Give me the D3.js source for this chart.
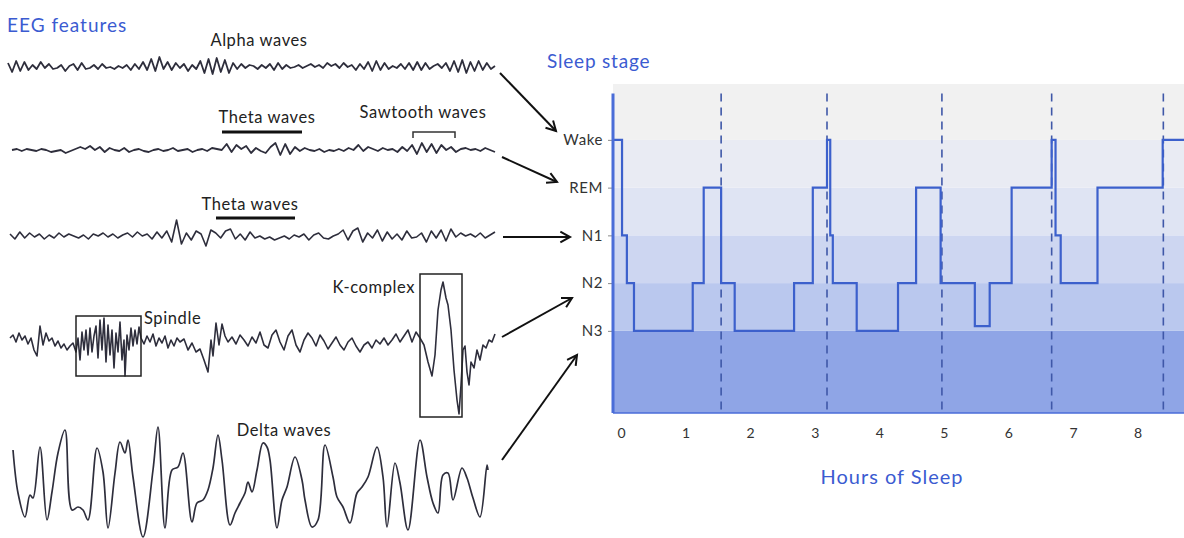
<!DOCTYPE html>
<html><head><meta charset="utf-8">
<script src="https://cdn.jsdelivr.net/npm/d3@7"></script>
<style>
html,body{margin:0;padding:0;background:#fff;}
svg{display:block;font-family:Lato,"Open Sans",sans-serif;}
</style></head><body>
<svg id="chart" width="1184" height="538"></svg>
<script>
// ---------- Hypnogram data ----------
const stageNames = ["N3", "N2", "N1", "REM", "Wake"];   // level 0..4
const stageLevels = [0, 1, 2, 3, 4];
const hypTimes  = [-0.125, 0.015, 0.09, 0.20, 1.11, 1.28, 1.55, 1.76, 2.68, 2.97, 3.19, 3.24, 3.28, 3.65, 4.29, 4.57, 4.95, 5.48, 5.71, 6.05, 6.67, 6.73, 6.81, 7.38, 8.39, 8.72];
const hypStages = [4, 2, 1, 0, 1, 3, 1, 0, 1, 3, 4, 2, 1, 0, 1, 3, 1, 0.1, 1, 3, 4, 2, 1, 3, 4, 4];
const cycleBounds = [1.55, 3.19, 4.97, 6.67, 8.40];
const hourTicks = [0, 1, 2, 3, 4, 5, 6, 7, 8];
const bandEdges = [-1.72, 0, 1, 2, 3, 4, 5.17];

// ---------- EEG traces (amplitude readings) ----------
const alphaWave = [4,-5,6,-4,5,-3,2,-2,5,-1,3,-2,-1,2,-4,1,3,-3,4,-2,
  -1,2,-2,3,-1,0,-2,1,-1,2,-3,3,-2,5,-3,8,-4,10,-2,5,
  -3,4,-1,3,-4,2,-2,6,-6,8,-7,9,-5,7,-6,4,-2,3,-1,2,
  1,-2,2,-1,3,-3,4,-2,2,-1,0,2,-1,1,3,0,2,-1,4,1,
  3,-1,4,0,2,-3,3,-2,5,-4,6,-3,4,-2,1,-1,3,-2,4,-3,
  5,-3,4,-2,1,3,-1,4,-4,6,-5,7,-6,5,-4,6,-3,4,-2,1];
const thetaWave = [0,1,-1,1,0,-1,1,0,-2,-1,0,-3,-1,1,
  3,1,4,0,3,-2,2,0,-1,2,-2,0,1,-1,-2,0,1,
  -1,0,2,-1,0,1,-2,0,1,-1,2,1,0,6,
  -2,5,1,4,-3,2,-1,-3,3,7,-5,6,-4,3,-1,2,
  0,-1,1,-2,0,-1,1,-1,2,0,5,-1,3,1,-1,2,0,1,-2,
  3,-1,5,-4,7,-2,6,-3,5,0,3,-2,1,
  2,0,1,-1,2,0,-2];
const thetaWave2 = [2,-3,4,-2,3,-1,2,-3,1,-2,3,
  -1,2,0,-2,1,-3,2,0,3,-1,2,-2,1,3,-1,4,0,2,
  -3,4,-2,5,-6,16,-8,3,-4,5,2,-10,6,3,
  -2,5,7,-3,2,-4,4,-2,0,-3,-1,-4,-2,0,-3,1,-1,2,-4,1,3,-2,-3,0,2,6,
  -4,5,8,-6,3,-2,6,-5,4,-3,2,-4,5,-2,-1,3,-6,5,-2,6,-5,7,
  -1,3,0,2,-1,3,-2,1,4];
const spindleTrace = [[10,2],[13,5],[16,-2],[19,7],[22,0],[25,4],[28,-4],[31,2],[34,-10],[37,-16],[40,14],[43,-5],[46,7],[49,-1],[52,2],[55,-6],[58,-1],[61,-8],[64,-4],[67,-10],[70,-6],[73,-3],[76,-12],
  [78,2],[80,-20],[82,8],[84,-10],[86,10],[88,-15],[90,12],[92,-12],[94,4],[96,14],[98,-18],[100,20],[102,-10],[104,22],[106,-22],[108,15],[110,-15],[112,10],[114,-28],[116,7],[118,-12],[120,18],[122,-20],[124,0],[125,-36],[127,5],[129,-10],[131,12],[133,-6],[135,10],[137,-4],[139,13],[141,2],
  [144,-4],[147,4],[150,-2],[153,6],[156,-6],[159,2],[162,-3],[165,4],[168,-8],[171,0],[174,-6],[177,2],[180,-2],[184,1],[188,-10],[192,-3],[196,-12],[200,-9],[204,-20],[208,-32],[211,0],[213,-16],[216,17],[219,-5],[222,16],[225,4],[228,-2],
  [232,3],[236,-4],[240,5],[244,0],[248,-6],[252,3],[256,-3],[260,8],[264,-5],[268,-8],[272,5],[276,10],[280,-2],[284,-10],[288,4],[292,10],[296,-5],[300,-12],[304,0],[308,7],[312,2],[316,-6],[320,5],[324,-1],[328,-9],[332,-3],[336,3],[340,-5],[344,-10],[348,-2],[352,2],[356,-6],[360,-12],[364,-5],[368,-2],[372,-8],[376,0],[380,-4],[384,2],[388,-5],[392,0],[396,6],[400,-2],[404,4],[408,10],[412,-2],[416,8],[420,2],
  [424,-5],[428,-22],[432,-36],[435,-15],[438,30],[441,50],[443,58],[446,42],[448,35],[451,10],[454,-30],[457,-60],[459,-74],[461,-45],[463,-10],[465,-6],[467,-32],[469,-45],[471,-22],[474,-28],[477,-10],[480,-20],[483,-5],[486,-8],[489,0],[492,-2],[495,6]];
const deltaTrace = [[13,30],[18,-13],[25,-37],[30,-15],[33,-18],[40,33],[47,-40],[52,-12],[58,27],[65,50],[72,-30],[78,-27],[83,-30],[88,-40],[97,32],[103,8],[108,-48],[115,7],[120,38],[125,27],[128,40],[133,3],[143,-57],[153,10],[158,53],[165,-48],[172,10],[178,13],[183,27],[192,-42],[197,-23],[203,-20],[208,-10],[213,12],[218,45],[222,20],[230,-45],[235,-33],[240,-23],[245,-13],[248,-2],[252,-12],[257,10],[263,37],[267,33],[270,20],[277,-48],[282,-20],[287,-7],[295,23],[302,0],[305,-20],[312,-47],[318,-40],[325,35],[333,3],[337,-17],[343,-27],[350,-43],[357,-13],[362,-7],[368,3],[377,33],[383,3],[387,-47],[395,17],[400,-3],[408,-50],[420,40],[427,3],[433,-23],[438,-33],[443,5],[448,7],[453,-20],[462,12],[467,2],[473,-18],[480,-37],[487,15],[488,10]];

// ---------- styles ----------
const bandColors = ["#8fa5e6", "#bac8ee", "#cdd6f1", "#dfe4f3", "#e9ebf3", "#f1f1f1"];
const BLUE = "#3b5bd1";
const TRACE = "#2e2e3c";

const svg = d3.select("#chart");

// ---------- Hypnogram ----------
const x = d3.scaleLinear().domain([-0.125, 8.72]).range([613, 1184]);
const y = d3.scaleLinear().domain([-1.72, 5.17]).range([413, 84]);

svg.append("g").selectAll("rect").data(d3.pairs(bandEdges)).join("rect")
  .attr("x", x(-0.125)).attr("width", x(8.72) - x(-0.125))
  .attr("y", d => y(d[1])).attr("height", d => y(d[0]) - y(d[1]))
  .attr("fill", (d, i) => bandColors[i]);

svg.append("g").selectAll("line").data(cycleBounds).join("line")
  .attr("x1", d => x(d)).attr("x2", d => x(d))
  .attr("y1", y(4.97)).attr("y2", y(-1.72))
  .attr("stroke", "#3f58a8").attr("stroke-width", 1.6)
  .attr("stroke-dasharray", "8,6");

const hypLine = d3.line().x(d => x(d[0])).y(d => y(d[1])).curve(d3.curveStepAfter);
svg.append("path").datum(hypTimes.map((t, i) => [t, hypStages[i]]))
  .attr("d", hypLine).attr("fill", "none")
  .attr("stroke", "#3c60cc").attr("stroke-width", 2.2);

const yAxis = svg.append("g").attr("transform", `translate(${x(-0.125)},0)`)
  .call(d3.axisLeft(y).tickValues(stageLevels).tickFormat(i => stageNames[i]).tickSize(5).tickPadding(5));
yAxis.select(".domain").remove();
yAxis.selectAll("line").attr("stroke", "#8a8a8a");
yAxis.selectAll("text").attr("fill", "#333").style("font-size", "15px").style("letter-spacing", "0.6px").style("font-family", "Lato");

svg.append("line").attr("x1", x(-0.125)).attr("x2", x(-0.125))
  .attr("y1", y(4.97)).attr("y2", y(-1.72))
  .attr("stroke", "#4a6dd8").attr("stroke-width", 3);
svg.append("line").attr("x1", x(-0.125)).attr("x2", x(8.72))
  .attr("y1", y(-1.72)).attr("y2", y(-1.72))
  .attr("stroke", "#4a6dd8").attr("stroke-width", 1.5);

const xAxis = svg.append("g").attr("transform", `translate(0,${y(-1.72)})`)
  .call(d3.axisBottom(x).tickValues(hourTicks).tickSize(0).tickPadding(15));
xAxis.select(".domain").remove();
xAxis.selectAll("text").attr("fill", "#333").style("font-size", "14px").style("font-family", "Lato");

svg.append("text").attr("x", 892).attr("y", 484).attr("text-anchor", "middle")
  .attr("fill", BLUE).style("font-size", "20px").style("letter-spacing", "1px").text("Hours of Sleep");
svg.append("text").attr("x", 547).attr("y", 68)
  .attr("fill", BLUE).style("font-size", "19px").style("letter-spacing", "0.8px").text("Sleep stage");
svg.append("text").attr("x", 7).attr("y", 32)
  .attr("fill", BLUE).style("font-size", "19px").style("letter-spacing", "1px").text("EEG features");

// ---------- EEG traces ----------
function uniformTrace(vals, x0, x1, cy, w) {
  const sx = d3.scaleLinear().domain([0, vals.length - 1]).range([x0, x1]);
  const sy = d3.scaleLinear().domain([-100, 100]).range([cy + 100, cy - 100]);
  svg.append("path").datum(vals)
    .attr("d", d3.line().x((d, i) => sx(i)).y(d => sy(d)))
    .attr("fill", "none").attr("stroke", TRACE).attr("stroke-width", w)
    .attr("stroke-linejoin", "round");
}
function pairTrace(pts, cy, w, curve) {
  const sx = d3.scaleLinear().domain([0, 500]).range([0, 500]);
  const sy = d3.scaleLinear().domain([-100, 100]).range([cy + 100, cy - 100]);
  svg.append("path").datum(pts)
    .attr("d", d3.line().x(d => sx(d[0])).y(d => sy(d[1])).curve(curve))
    .attr("fill", "none").attr("stroke", TRACE).attr("stroke-width", w)
    .attr("stroke-linejoin", "round");
}
uniformTrace(alphaWave, 8, 495, 67, 1.8);
uniformTrace(thetaWave, 12, 495, 150, 1.8);
uniformTrace(thetaWave2, 10, 495, 236, 1.6);
pairTrace(spindleTrace, 340, 1.6, d3.curveLinear);
pairTrace(deltaTrace, 480, 1.7, d3.curveCatmullRom.alpha(0.5));

// ---------- annotations ----------
const lbl = (t, x0, y0, anchor) => svg.append("text").attr("x", x0).attr("y", y0)
  .attr("text-anchor", anchor || "start").attr("fill", "#222")
  .style("font-size", "16.5px").style("letter-spacing", "0.6px").text(t);
lbl("Alpha waves", 259, 46, "middle");
lbl("Theta waves", 267, 123, "middle");
lbl("Sawtooth waves", 423, 118, "middle");
lbl("Theta waves", 250, 210, "middle");
lbl("Spindle", 144, 324);
lbl("K-complex", 415, 293, "end");
lbl("Delta waves", 284, 436, "middle");

svg.append("line").attr("x1", 222).attr("x2", 302).attr("y1", 132).attr("y2", 132).attr("stroke", "#111").attr("stroke-width", 3);
svg.append("line").attr("x1", 216).attr("x2", 295).attr("y1", 218).attr("y2", 218).attr("stroke", "#111").attr("stroke-width", 3);
svg.append("path").attr("d", "M413,138 V132 H455 V138").attr("fill", "none").attr("stroke", "#333").attr("stroke-width", 1.5);
svg.append("rect").attr("x", 76).attr("y", 316).attr("width", 65).attr("height", 60).attr("fill", "none").attr("stroke", "#222").attr("stroke-width", 1.5);
svg.append("rect").attr("x", 420).attr("y", 274).attr("width", 42).attr("height", 143).attr("fill", "none").attr("stroke", "#222").attr("stroke-width", 1.5);

const arrows = [[500, 73, 556, 131], [502, 157, 557, 182], [503, 237, 570, 237], [502, 337, 572, 298], [502, 460, 577, 355]];
arrows.forEach(([x1, y1, x2, y2]) => {
  const a = Math.atan2(y2 - y1, x2 - x1), L = 11, s = 0.5;
  svg.append("line").attr("x1", x1).attr("y1", y1).attr("x2", x2).attr("y2", y2)
    .attr("stroke", "#111").attr("stroke-width", 2);
  svg.append("path")
    .attr("d", `M${x2 - L * Math.cos(a - s)},${y2 - L * Math.sin(a - s)} L${x2},${y2} L${x2 - L * Math.cos(a + s)},${y2 - L * Math.sin(a + s)}`)
    .attr("fill", "none").attr("stroke", "#111").attr("stroke-width", 2).attr("stroke-linejoin", "miter");
});
</script></body></html>
